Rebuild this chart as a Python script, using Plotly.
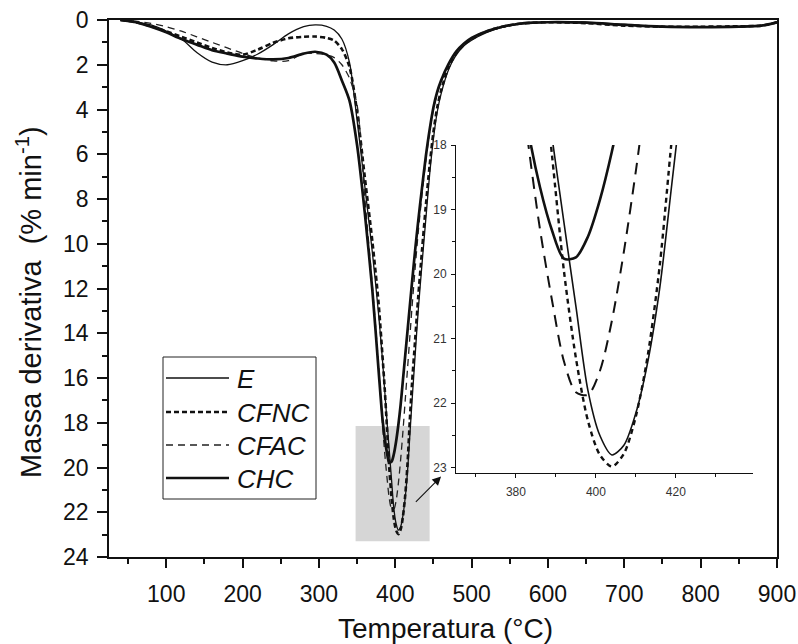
import plotly.graph_objects as go

# ---------------- data ----------------
temperature = [40, 60, 80, 100, 120, 140, 160, 180, 200, 220,
               240, 260, 280, 295, 310, 320, 330, 340, 350, 360,
               370, 378, 383, 386, 389, 392, 395, 398, 401, 404,
               407, 410, 413, 416, 419, 422, 426, 430, 435, 440,
               445, 450, 455, 460, 470, 480, 490, 500, 520, 540,
               560, 580, 600, 650, 700, 750, 800, 850, 880, 900]

dtg_E = [0.0, 0.08, 0.22, 0.5, 0.85, 1.45, 1.88, 2.0, 1.82, 1.52,
         1.1, 0.62, 0.3, 0.22, 0.28, 0.45, 0.85, 1.9, 4.5, 7.4,
         10.4, 13.1, 15.1, 16.5, 17.87, 19.2, 20.5, 21.8, 22.5, 22.8,
         22.65, 22.15, 21.35, 20.2, 18.6, 17.0, 15.0, 13.0, 10.9, 8.9,
         6.9, 5.3, 4.1, 3.3, 2.2, 1.55, 1.15, 0.9, 0.55, 0.33,
         0.2, 0.13, 0.1, 0.1, 0.2, 0.3, 0.32, 0.3, 0.25, 0.08]

dtg_CFNC = [0.0, 0.1, 0.28, 0.5, 0.75, 1.0, 1.25, 1.45, 1.55, 1.32,
            1.02, 0.82, 0.75, 0.74, 0.8, 0.92, 1.3, 2.1, 4.1, 7.0,
            9.9, 12.6, 14.9, 16.4, 18.15, 19.95, 21.3, 22.27, 22.8, 22.98,
            22.78, 22.2, 21.25, 19.85, 17.9, 16.2, 14.3, 12.4, 10.3, 8.3,
            6.5, 5.0, 3.9, 3.15, 2.1, 1.5, 1.1, 0.85, 0.5, 0.3,
            0.18, 0.12, 0.1, 0.14, 0.25, 0.3, 0.3, 0.28, 0.25, 0.1]

dtg_CFAC = [0.0, 0.05, 0.15, 0.3, 0.5, 0.75, 1.0, 1.25, 1.49, 1.7,
            1.83, 1.82, 1.5, 1.5, 1.56, 1.68, 2.0, 2.6, 3.8, 7.9,
            11.9, 15.4, 17.95, 19.3, 20.4, 21.35, 21.83, 21.87, 21.5, 20.72,
            19.65, 18.4, 17.0, 15.6, 14.2, 12.8, 11.1, 9.5, 7.8, 6.3,
            5.0, 4.0, 3.3, 2.75, 2.0, 1.45, 1.1, 0.85, 0.5, 0.32,
            0.2, 0.12, 0.1, 0.12, 0.2, 0.28, 0.3, 0.28, 0.25, 0.12]

dtg_CHC = [0.0, 0.1, 0.3, 0.55, 0.85, 1.1, 1.35, 1.5, 1.64, 1.72,
           1.76, 1.7, 1.5, 1.42, 1.55, 1.9, 2.7, 3.6, 5.6, 8.6,
           12.1, 15.6, 17.75, 18.65, 19.32, 19.76, 19.74, 19.42, 18.85, 18.1,
           17.2, 16.1, 15.0, 13.9, 12.8, 11.7, 10.3, 9.0, 7.5, 6.1,
           4.9, 3.9, 3.2, 2.7, 1.95, 1.4, 1.05, 0.8, 0.5, 0.3,
           0.18, 0.12, 0.1, 0.12, 0.22, 0.3, 0.32, 0.3, 0.25, 0.1]

series_names = ["E", "CFNC", "CFAC", "CHC"]
series_values = [dtg_E, dtg_CFNC, dtg_CFAC, dtg_CHC]

main_x_ticks = [100, 200, 300, 400, 500, 600, 700, 800, 900]
main_y_ticks = list(range(0, 25, 2))
inset_x_ticks = [380, 400, 420]
inset_y_ticks = [18, 19, 20, 21, 22, 23]

zoom_box = dict(x0=348, x1=445, y0=18.15, y1=23.3)
arrow_from = (425, 21.6)
arrow_to = (460, 20.4)

# ---------------- styles ----------------
FONT = "Arial, 'Liberation Sans', sans-serif"
main_styles = {
    "E": dict(color="#111", width=1.3, dash="solid"),
    "CFNC": dict(color="#111", width=2.6, dash="5px,3px"),
    "CFAC": dict(color="#222", width=1.3, dash="7px,5px"),
    "CHC": dict(color="#111", width=2.7, dash="solid"),
}
inset_styles = {
    "E": dict(color="#111", width=1.6, dash="solid"),
    "CFNC": dict(color="#111", width=2.4, dash="5px,4px"),
    "CFAC": dict(color="#111", width=2.0, dash="12px,8px"),
    "CHC": dict(color="#111", width=2.6, dash="solid"),
}

W, H = 798, 644
ML, MR, MT, MB = 109, 21, 20, 87
PW, PH = W - ML - MR, H - MT - MB


def px_x(px):
    return (px - ML) / PW


def px_y(py):
    return (H - MB - py) / PH


fig = go.Figure()
for name, vals in zip(series_names, series_values):
    fig.add_trace(go.Scatter(
        x=temperature, y=vals, name=name, mode="lines",
        line=dict(shape="spline", smoothing=0.8, **main_styles[name]),
        xaxis="x", yaxis="y", showlegend=False))
for name, vals in zip(series_names, series_values):
    fig.add_trace(go.Scatter(
        x=temperature, y=vals, name=name, mode="lines",
        line=dict(shape="spline", smoothing=0.8, **inset_styles[name]),
        xaxis="x2", yaxis="y2", showlegend=False))

fig.add_shape(type="rect", xref="x", yref="y", layer="below",
              line=dict(width=0), fillcolor="#d6d6d6", **zoom_box)

fig.add_annotation(x=arrow_to[0], y=arrow_to[1], ax=arrow_from[0], ay=arrow_from[1],
                   xref="x", yref="y", axref="x", ayref="y", text="",
                   showarrow=True, arrowhead=2, arrowsize=1.6, arrowwidth=1.1,
                   arrowcolor="#111")

# ---- legend box (drawn as a key in paper coordinates) ----
fig.add_shape(type="rect", xref="paper", yref="paper",
              x0=px_x(163), x1=px_x(316), y0=px_y(499), y1=px_y(357),
              line=dict(color="#222", width=1), fillcolor="white", layer="above")
legend_rows_py = [378, 412, 445, 478]
for name, py in zip(series_names, legend_rows_py):
    st = main_styles[name]
    fig.add_shape(type="line", xref="paper", yref="paper",
                  x0=px_x(166), x1=px_x(229), y0=px_y(py), y1=px_y(py),
                  line=dict(color=st["color"], width=st["width"], dash=st["dash"]),
                  layer="above")
    fig.add_annotation(text=f"<i>{name}</i>", xref="paper", yref="paper",
                       x=px_x(235), y=px_y(py + 1), xanchor="left", yanchor="middle",
                       showarrow=False, font=dict(family=FONT, size=26, color="#111"))

fig.add_annotation(text="Temperatura (°C)", xref="paper", yref="paper",
                   x=px_x(446), y=px_y(628), xanchor="center", yanchor="middle",
                   showarrow=False, font=dict(family=FONT, size=28, color="#111"))
fig.add_annotation(text="Massa derivativa  (% min<sup>-1</sup>)", xref="paper", yref="paper",
                   x=px_x(29), y=px_y(302), xanchor="center", yanchor="middle", textangle=-90,
                   showarrow=False, font=dict(family=FONT, size=29, color="#111"))

axis_common = dict(showgrid=False, zeroline=False, showline=True, linecolor="#111",
                   ticks="outside", tickcolor="#111", automargin=False)

fig.update_layout(
    width=W, height=H,
    margin=dict(l=ML, r=MR, t=MT, b=MB, autoexpand=False),
    paper_bgcolor="white", plot_bgcolor="white",
    font=dict(family=FONT, color="#111"),
    showlegend=False,
    xaxis=dict(**axis_common, domain=[0, 1], range=[25, 900], linewidth=1.8,
               mirror=True, tickvals=main_x_ticks, ticklen=9, tickwidth=1.5,
               ticklabelstandoff=6, tickfont=dict(size=23),
               minor=dict(dtick=50, tick0=0, ticklen=5, ticks="outside", tickcolor="#111", tickwidth=1.5)),
    yaxis=dict(**axis_common, domain=[0, 1], range=[24, 0], linewidth=1.8,
               mirror=True, tickvals=main_y_ticks, ticklen=10, tickwidth=1.5,
               ticklabelstandoff=4, tickfont=dict(size=23),
               minor=dict(dtick=1, tick0=0, ticklen=5, ticks="outside", tickcolor="#111", tickwidth=1.5)),
    xaxis2=dict(**axis_common, domain=[px_x(456), px_x(753)], anchor="y2", range=[365, 439.3],
                linewidth=1, tickvals=inset_x_ticks, ticklen=4, tickwidth=1,
                ticklabelstandoff=4, tickfont=dict(size=12, color="#333"),
                minor=dict(dtick=10, tick0=0, ticklen=3, ticks="outside", tickcolor="#111")),
    yaxis2=dict(**axis_common, domain=[px_y(473), px_y(145)], anchor="x2", range=[23.08, 18],
                linewidth=1, tickvals=inset_y_ticks, ticklen=4, tickwidth=1,
                ticklabelstandoff=2, tickfont=dict(size=12, color="#333"),
                minor=dict(dtick=0.5, tick0=0, ticklen=3, ticks="outside", tickcolor="#111")),
)

fig.write_html("out.html")
